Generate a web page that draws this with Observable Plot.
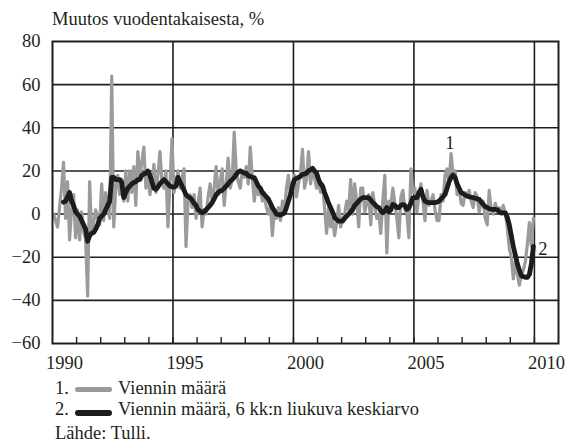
<!DOCTYPE html>
<html><head><meta charset="utf-8">
<script src="https://cdn.jsdelivr.net/npm/d3@7"></script>
<script src="https://cdn.jsdelivr.net/npm/@observablehq/plot@0.6"></script>
<style>
body{margin:0;background:#fff;}
#wrap{position:relative;width:566px;height:446px;font-family:"Liberation Serif","Times New Roman",serif;font-size:18.5px;color:#231f20;overflow:hidden;}
#title{position:absolute;left:52px;top:9px;line-height:20px;white-space:nowrap;}
#chart{position:absolute;left:0;top:29px;}
.t{position:absolute;line-height:21px;white-space:nowrap;}
.sw{position:absolute;left:75px;width:37px;border-radius:3px;}
</style></head>
<body>
<div id="wrap">
  <div id="title">Muutos vuodentakaisesta, %</div>
  <div id="chart"></div>
  <div class="t" style="left:55px;top:378px">1.</div>
  <div class="sw" style="top:387px;height:5px;background:#9a9a9a"></div>
  <div class="t" style="left:118px;top:378px">Viennin määrä</div>
  <div class="t" style="left:55px;top:399px">2.</div>
  <div class="sw" style="top:410px;height:5.5px;background:#1c1c1c"></div>
  <div class="t" style="left:118px;top:399px">Viennin määrä, 6 kk:n liukuva keskiarvo</div>
  <div class="t" style="left:55px;top:423px">Lähde: Tulli.</div>
</div>
<script>
const startYear = 1990;
// Viennin määrä, monthly, Jan 1990 – Dec 2009
const grayValues = [
  0, -3, -6, 3, 12, 24, -2, 15, -12, 2, 9, -11,      // 1990
  2, -12, 1, -8, -12, -38, 15, -9, -4, 2, -2, -5,    // 1991
  14, -3, 10, 4, -2, 64, -6, 12, 18, 9, 16, 6,       // 1992
  20, 6, 20, 10, 22, 4, 29, 18, 24, 31, 12, 18,      // 1993
  9, 14, 23, 10, 18, 29, 15, 12, 20, -6, 14, 35,     // 1994
  10, 15, 20, 12, 17, 21, -15, 6, 9, 3, 9, -2,       // 1995
  5, 12, -6, 2, 0, 8, 14, 6, 12, 22, 9, 15,          // 1996
  21, 4, 14, 26, 12, 16, 38, 20, 15, 12, 20, 17,     // 1997
  22, 14, 31, 17, 6, 15, 9, 12, 6, 10, 3, 0,         // 1998
  4, -10, 2, -2, 3, -3, 6, 0, 12, 18, 9, 14,         // 1999
  18, 8, 14, 19, 30, 12, 16, 29, 14, 20, 17, 12,     // 2000
  14, 10, 14, 3, -9, 3, -6, -2, -10, -4, 4, -6,      // 2001
  -2, 0, 6, 2, 16, 0, 14, 6, -6, 12, 12, 1,          // 2002
  5, 9, -5, 10, 4, -2, 0, -9, 6, 18, -18, 6,         // 2003
  4, 12, 5, -2, -11, 8, 11, 2, 0, -11, 21, 10,       // 2004
  12, 1, 9, 14, 6, -3, 11, 4, 6, 9, 2, -3,           // 2005
  -3, 9, 6, 18, 21, 14, 28, 18, 20, 9, 12, 5,        // 2006
  4, 10, 8, 11, 6, 3, 10, 8, 1, 6, 6, -2,            // 2007
  -5, 11, 2, 0, 5, 2, 3, 0, 4, 0, -6, -16,           // 2008
  -20, -30, -22, -28, -33, -28, -26, -22, -14, -4, -15, -2 // 2009
];
// 6 kk:n liukuva keskiarvo, monthly, Jun 1990 – Dec 2009
const maStartMonth = 6;
const maValues = [
  5.5, 6, 8, 10, 6, 4, 1,                                   // 1990 (Jun–Dec)
  0, -1, -3, -5, -7, -12.6, -10, -9, -8.5, -7, -5, -2,      // 1991
  -1, 0, 2, 4, 6, 17, 17, 16, 16, 16, 14.5, 7.6,            // 1992
  10, 12, 13, 14, 14.6, 15, 16, 16, 18, 18.5, 19, 20,       // 1993
  18, 15, 12, 11.5, 12.5, 14, 15, 16, 15, 14, 13, 12.6,     // 1994
  12.5, 13, 17, 15, 13, 11, 9, 8, 7.6, 6.5, 5, 4,           // 1995
  2, 1.4, 0.6, 1, 2, 3, 4, 5.3, 7, 9, 10, 10.7,             // 1996
  11, 12, 13, 14, 15.3, 16, 17, 18.4, 19.5, 20, 19.5, 19,   // 1997
  19, 17.7, 17.5, 17, 16.9, 15, 13, 12, 10, 9, 8, 7,        // 1998
  5, 3, 1.5, 0, -0.2, -0.5, 0, 0.5, 3, 6, 9, 13,            // 1999
  16, 16.5, 17, 17.5, 18.4, 18.5, 19, 20, 20.5, 21.2, 20, 19, // 2000
  16, 14, 13, 10, 7.6, 5, 3, 1, -1.7, -2.5, -3.3, -3.3,     // 2001
  -3.3, -2, -1, 0, 1, 2.2, 4, 5, 6, 7, 7.6, 7.6,            // 2002
  7.6, 7.6, 6.5, 5.3, 4.5, 3.5, 3, 1.5, 0.6, 1.5, 3, 1,     // 2003
  2, 4.5, 4, 3, 3, 4, 4.5, 4, 2.2, 3, 5, 7.6,               // 2004
  7.6, 7.6, 10, 11.5, 8, 6, 5.5, 5.3, 5.3, 5.3, 5.3, 5.5,   // 2005
  6, 7, 8, 9.1, 12, 15, 17, 18.1, 17, 14, 12, 10,           // 2006
  9.5, 8.8, 8.4, 8, 7.8, 7.6, 7.3, 7, 6.8, 5.5, 4.5, 3.5,   // 2007
  3, 2.5, 2.2, 2.2, 2.2, 2, 1, 0.6, 0.6, 0.6, -1.5, -5,     // 2008
  -10, -15, -19, -23, -26, -28.5, -29, -29.3, -29.3, -28, -23, -15 // 2009
];
const yTicks = [-60, -40, -20, 0, 20, 40, 60, 80];
const yGrid = [-40, -20, 0, 20, 40, 60];
const yearGrid = [1995, 2000, 2005, 2010];
const yearTicks = [1991,1992,1993,1994,1995,1996,1997,1998,1999,2000,2001,2002,2003,2004,2005,2006,2007,2008,2009,2010];
const yearLabels = [1990, 1995, 2000, 2005, 2010];
const annotations = [
  {label: "1", year: 2006.49, value: 33},
  {label: "2", year: 2010.35, value: -16}
];

const gray = grayValues.map((v, i) => ({t: startYear + (i + 0.5) / 12, v}));
const ma = maValues.map((v, i) => ({t: startYear + (maStartMonth - 1 + i + 0.5) / 12, v}));

const ink = "#231f20";
const chart = Plot.plot({
  width: 566,
  height: 346,
  marginTop: 12,
  marginBottom: 32,
  marginLeft: 52,
  marginRight: 8,
  style: {fontFamily: '"Liberation Serif", "Times New Roman", serif', fontSize: "18.5px", color: ink, background: "#fff"},
  x: {domain: [1990, 2011]},
  y: {domain: [-60, 80]},
  marks: [
    Plot.ruleY(yGrid, {stroke: "#1e1e1e", strokeWidth: 1.6}),
    Plot.ruleX(yearGrid, {stroke: "#1e1e1e", strokeWidth: 1.6}),
    Plot.axisX(yearTicks, {tickSize: -6, fill: "none", label: null, stroke: "#1e1e1e", strokeWidth: 1.4}),
    Plot.axisX(yearLabels.map(d => d + 0.5), {tickSize: 0, tickPadding: 12, tickFormat: d => String(Math.floor(d)), label: null, fill: ink}),
    Plot.axisY(yTicks, {tickSize: 0, tickPadding: 12, label: null, fill: ink}),
    Plot.line(gray, {x: "t", y: "v", stroke: "#9b9b9b", strokeWidth: 3.2, strokeLinejoin: "round"}),
    Plot.line(ma, {x: "t", y: "v", stroke: "#1c1c1c", strokeWidth: 4.8, strokeLinejoin: "round"}),
    Plot.text(annotations, {x: "year", y: "value", text: "label", fill: ink}),
    Plot.frame({stroke: "#1e1e1e", strokeWidth: 2})
  ]
});
document.getElementById("chart").appendChild(chart);
</script>
</body></html>
